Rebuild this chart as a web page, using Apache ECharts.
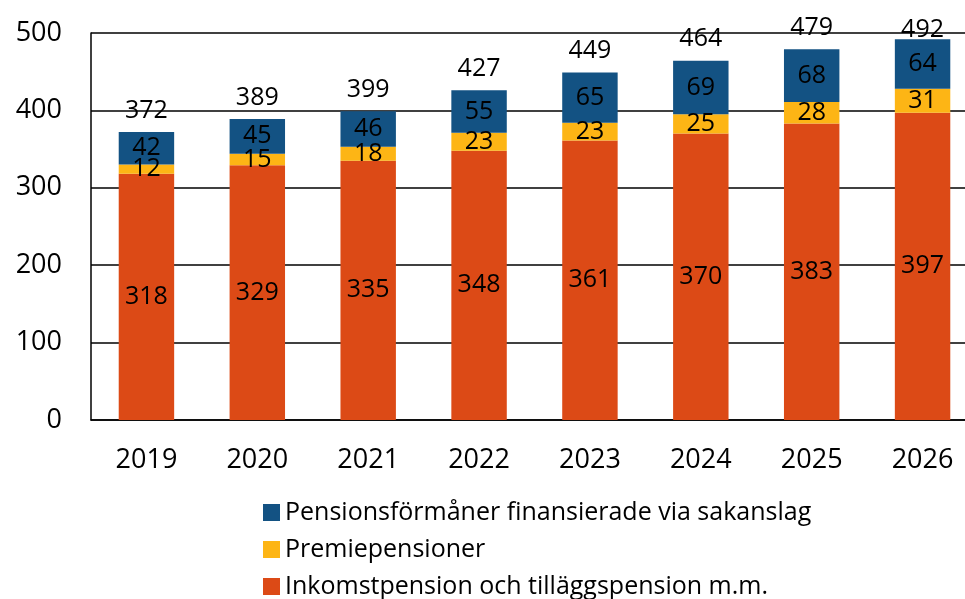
<!DOCTYPE html>
<html><head><meta charset="utf-8">
<script src="https://cdn.jsdelivr.net/npm/echarts@6/dist/echarts.min.js"></script>
<style>html,body{margin:0;padding:0;background:#fff}#c{width:965px;height:599px}</style>
</head><body><div id="c"></div>
<script>
const categories = ['2019','2020','2021','2022','2023','2024','2025','2026'];
const inkomst = [318, 329, 335, 348, 361, 370, 383, 397];
const premie = [12, 15, 18, 23, 23, 25, 28, 31];
const sakanslag = [42, 45, 46, 55, 65, 69, 68, 64];
const totals = [372, 389, 399, 427, 449, 464, 479, 492];
const yTicks = [0, 100, 200, 300, 400, 500];
const names = ['Pensionsförmåner finansierade via sakanslag', 'Premiepensioner', 'Inkomstpension och tilläggspension m.m.'];

const FONT = 'Open Sans';
const FS = 25;
const AFS = 27;
const chart = echarts.init(document.getElementById('c'));
const lbl = {show: true, position: 'inside', color: '#000', fontFamily: FONT, fontSize: FS};
const yMax = yTicks[yTicks.length-1];
// total labels placed on a zero-height bar at the top of each stack
const totalData = totals.map((t, i) => ({
  value: 0,
  label: {distance: (inkomst[i] + premie[i] + sakanslag[i]) > 485 ? -3 : 9}
}));
chart.setOption({
  animation: false,
  textStyle: {fontFamily: FONT},
  grid: {left: 91, top: 33, bottom: 179, width: 887, containLabel: false, outerBoundsMode: 'none'},
  legend: {
    orient: 'vertical', left: 258, top: 495, itemGap: 12, height: 120,
    itemWidth: 17, itemHeight: 17, icon: 'rect',
    data: names,
    textStyle: {fontFamily: FONT, fontSize: FS, color: '#000'}
  },
  xAxis: {
    type: 'category', data: categories,
    axisLine: {lineStyle: {color: '#000', width: 1.5}},
    axisTick: {show: false},
    axisLabel: {color: '#000', fontFamily: FONT, fontSize: AFS, margin: 27}
  },
  yAxis: {
    type: 'value', min: yTicks[0], max: yMax, interval: 100,
    axisLine: {show: true, lineStyle: {color: '#000', width: 1.5}},
    axisTick: {show: false},
    splitLine: {lineStyle: {color: '#000', width: 1.5}},
    axisLabel: {color: '#000', fontFamily: FONT, fontSize: AFS, margin: 29}
  },
  series: [
    {name: names[2], type: 'bar', stack: 't', data: inkomst, barWidth: '50%', itemStyle: {color: '#DC4A16'}, label: lbl},
    {name: names[1], type: 'bar', stack: 't', data: premie, itemStyle: {color: '#FDB515'}, label: lbl},
    {name: names[0], type: 'bar', stack: 't', data: sakanslag, itemStyle: {color: '#135283'}, label: lbl},
    {name: 'total', type: 'bar', stack: 't', data: totalData, silent: true,
     itemStyle: {color: 'rgba(0,0,0,0)'},
     label: {show: true, position: 'top', color: '#000', fontFamily: FONT, fontSize: FS,
             formatter: p => String(totals[p.dataIndex])}}
  ]
});
</script></body></html>
